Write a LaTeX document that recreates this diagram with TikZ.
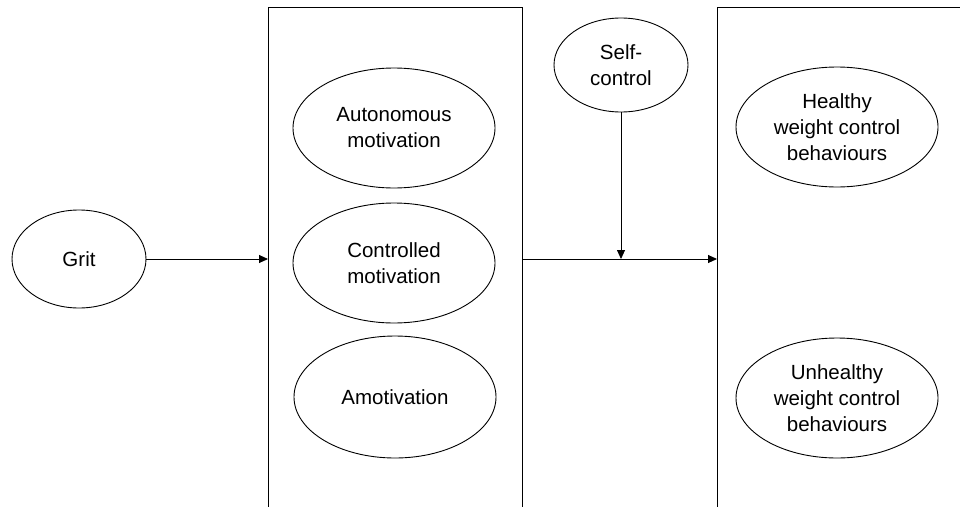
\documentclass[tikz,border=0pt]{standalone}
\usepackage{fontspec}
\setmainfont{Liberation Sans}
\usetikzlibrary{shapes.geometric,arrows.meta}

\begin{document}
\begin{tikzpicture}[x=1pt,y=-1pt,line width=0.9pt]
        \tikzstyle{every node}+=[inner sep=0pt, font=\fontsize{20.5}{26}\selectfont, align=center]
        \tikzstyle{construct}=[draw, ellipse]
        \tikzstyle{panel}=[draw, rectangle, anchor=north west]
        \tikzstyle{path}=[-{Triangle[length=9pt,width=8pt]}]
        \useasboundingbox (0,0) rectangle (960,506);
        \clip (-2,-2) rectangle (962,508);
        % panels, open at the bottom
        \node [panel, minimum width=254, minimum height=560] (mediators) at (268,7) {};
        \node [panel, minimum width=300, minimum height=560] (outcomes) at (717,7) {};
        % constructs
        \node [construct, minimum width=134, minimum height=98] (grit) at (79,259) {Grit};
        \node [construct, minimum width=202, minimum height=120] (auto) at (394,128) {Autonomous\\motivation};
        \node [construct, minimum width=202, minimum height=120] (ctrl) at (394,263) {Controlled\\motivation};
        \node [construct, minimum width=202, minimum height=122] (amot) at (395,397) {Amotivation};
        \node [construct, minimum width=134, minimum height=94] (selfctrl) at (621,65) {Self-\\control};
        \node [construct, minimum width=202, minimum height=120] (healthy) at (837,127) {Healthy\\weight control\\behaviours};
        \node [construct, minimum width=202, minimum height=120] (unhealthy) at (837,398) {Unhealthy\\weight control\\behaviours};
        % paths
        \coordinate (mod) at (621,259);
        \draw [path] (grit) -- (grit -| mediators.west);
        \draw [path] (mediators.east |- mod) -- (outcomes.west |- mod);
        \draw [path] (selfctrl) -- (mod);
\end{tikzpicture}
\end{document}
